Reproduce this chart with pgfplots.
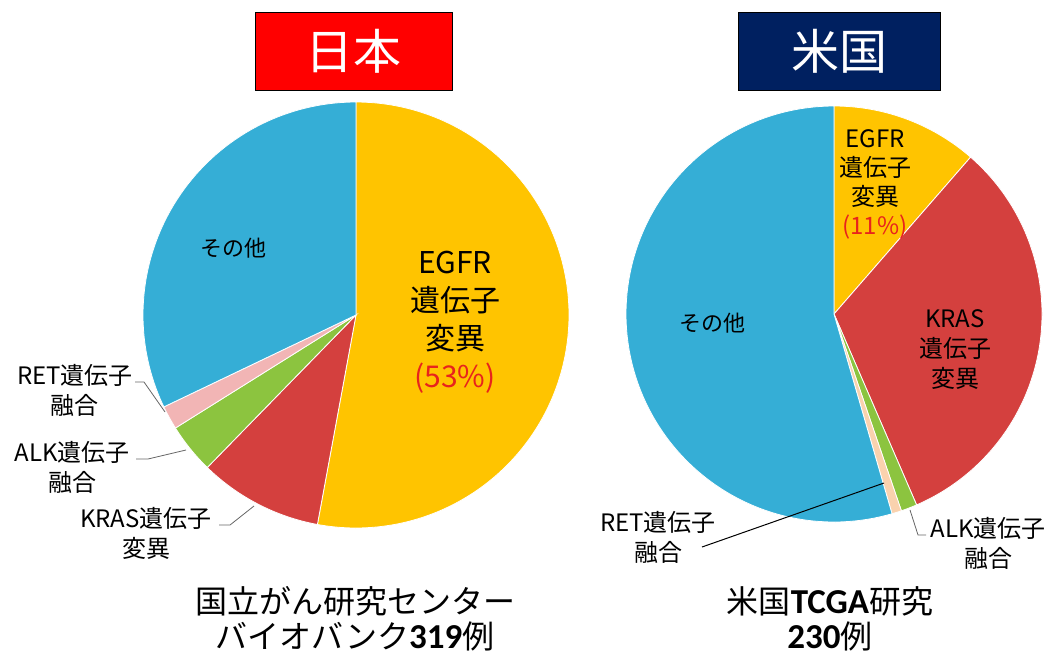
\documentclass[border=0pt]{standalone}
\usepackage{pgfplots}
\pgfplotsset{compat=1.18}
\usepackage{fontspec}
\setmainfont{Noto Sans CJK JP}
\newfontfamily\carl{Carlito}
\definecolor{cEGFR}{HTML}{FFC400}
\definecolor{cKRAS}{HTML}{D4403E}
\definecolor{cALK}{HTML}{8CC43F}
\definecolor{cRETjp}{HTML}{F2B5B5}
\definecolor{cRETus}{HTML}{FAD2AE}
\definecolor{cOther}{HTML}{35AED6}
\definecolor{cNavy}{HTML}{002060}
\definecolor{cPct}{HTML}{E8231C}
% shares in percent (clockwise from 12 o'clock)
\def\jpE{52.9}\def\jpK{9.4}\def\jpA{3.8}\def\jpR{1.8}\def\jpO{32.1}
\def\usE{11.4}\def\usK{32.1}\def\usA{1.25}\def\usR{0.75}\def\usO{54.5}
\pgfmathsetmacro\jpa{90-3.6*\jpE}
\pgfmathsetmacro\jpb{\jpa-3.6*\jpK}
\pgfmathsetmacro\jpc{\jpb-3.6*\jpA}
\pgfmathsetmacro\jpd{\jpc-3.6*\jpR}
\pgfmathsetmacro\jpe{\jpd-3.6*\jpO}
\pgfmathsetmacro\usa{90-3.6*\usE}
\pgfmathsetmacro\usb{\usa-3.6*\usK}
\pgfmathsetmacro\usc{\usb-3.6*\usA}
\pgfmathsetmacro\usd{\usc-3.6*\usR}
\pgfmathsetmacro\use{\usd-3.6*\usO}
\newcommand\slice[6]{%
  \addplot[fill=#6,draw=white,line width=0.8pt,domain=#4:#5,samples=150,variable=\t]
    ({#1+#3*cos(\t)},{#2-#3*sin(\t)}) -- (axis cs:#1,#2) -- cycle;}
\begin{document}
\begin{tikzpicture}
\begin{axis}[scale only axis, width=1051pt, height=657pt,
  xmin=0, xmax=1051, ymin=0, ymax=657, y dir=reverse,
  hide axis, clip=false]
\path (axis cs:0,0) rectangle (axis cs:1051,657);
% Japan pie
\slice{356}{315}{213}{\jpa}{90}{cEGFR}
\slice{356}{315}{213}{\jpb}{\jpa}{cKRAS}
\slice{356}{315}{213}{\jpc}{\jpb}{cALK}
\slice{356}{315}{213}{\jpd}{\jpc}{cRETjp}
\slice{356}{315}{213}{\jpe}{\jpd}{cOther}
% US pie
\slice{834}{314}{208}{\usa}{90}{cEGFR}
\slice{834}{314}{208}{\usb}{\usa}{cKRAS}
\slice{834}{314}{208}{\usc}{\usb}{cALK}
\slice{834}{314}{208}{\usd}{\usc}{cRETus}
\slice{834}{314}{208}{\use}{\usd}{cOther}
% title boxes
\node[fill=red, draw=black, line width=0.8pt, minimum width=197pt, minimum height=78pt, text=white,
  font=\fontsize{48}{50}\selectfont, inner sep=0pt] at (axis cs:353.5,51) {日本};
\node[fill=cNavy, draw=black, line width=0.8pt, minimum width=202pt, minimum height=78pt, text=white,
  font=\fontsize{48}{50}\selectfont, inner sep=0pt] at (axis cs:839,51) {米国};
% Japan labels
\node[font=\fontsize{22}{26}\selectfont] at (axis cs:233,248) {その他};
\node[align=center, font=\fontsize{30}{38}\selectfont] at (axis cs:455,322)
  {EGFR\\遺伝子\\変異\\\textcolor{cPct}{(53\%)}};
\node[align=center, font=\fontsize{24}{30}\selectfont] at (axis cs:75,390) {RET遺伝子\\融合};
\node[align=center, font=\fontsize{24}{30}\selectfont] at (axis cs:72,467) {ALK遺伝子\\融合};
\node[align=center, font=\fontsize{24}{30}\selectfont] at (axis cs:146,533) {KRAS遺伝子\\変異};
\draw[black!60, line width=0.8pt] (axis cs:135,382) -- (axis cs:144,382) -- (axis cs:165,412);
\draw[black!60, line width=0.8pt] (axis cs:136,459) -- (axis cs:148,459) -- (axis cs:186,450);
\draw[black!60, line width=0.8pt] (axis cs:219,525) -- (axis cs:230,525) -- (axis cs:254,506);
% US labels
\node[font=\fontsize{22}{26}\selectfont] at (axis cs:712,323) {その他};
\node[align=center, font=\fontsize{24}{29}\selectfont] at (axis cs:875,184)
  {EGFR\\遺伝子\\変異\\\textcolor{cPct}{(11\%)}};
\node[align=center, font=\fontsize{24}{30}\selectfont] at (axis cs:955,350) {KRAS\\遺伝子\\変異};
\node[align=center, font=\fontsize{24}{30}\selectfont] at (axis cs:658,537) {RET遺伝子\\融合};
\node[align=center, font=\fontsize{24}{30}\selectfont] at (axis cs:988,543) {ALK遺伝子\\融合};
\draw[black, line width=1pt] (axis cs:702,547) -- (axis cs:884,483);
\draw[black!60, line width=0.8pt] (axis cs:926,535) -- (axis cs:918,535) -- (axis cs:910,510);
% bottom captions
\node[align=center, font=\fontsize{32}{35}\selectfont, inner sep=1pt] at (axis cs:355,619)
  {国立がん研究センター\\バイオバンク{\carl\bfseries\fontsize{35}{35}\selectfont 319}例};
\node[align=center, font=\fontsize{32}{35}\selectfont, inner sep=1pt] at (axis cs:830,619)
  {米国{\carl\bfseries\fontsize{35}{35}\selectfont TCGA}研究\\{\carl\bfseries\fontsize{35}{35}\selectfont 230}例};
\end{axis}
\end{tikzpicture}
\end{document}
